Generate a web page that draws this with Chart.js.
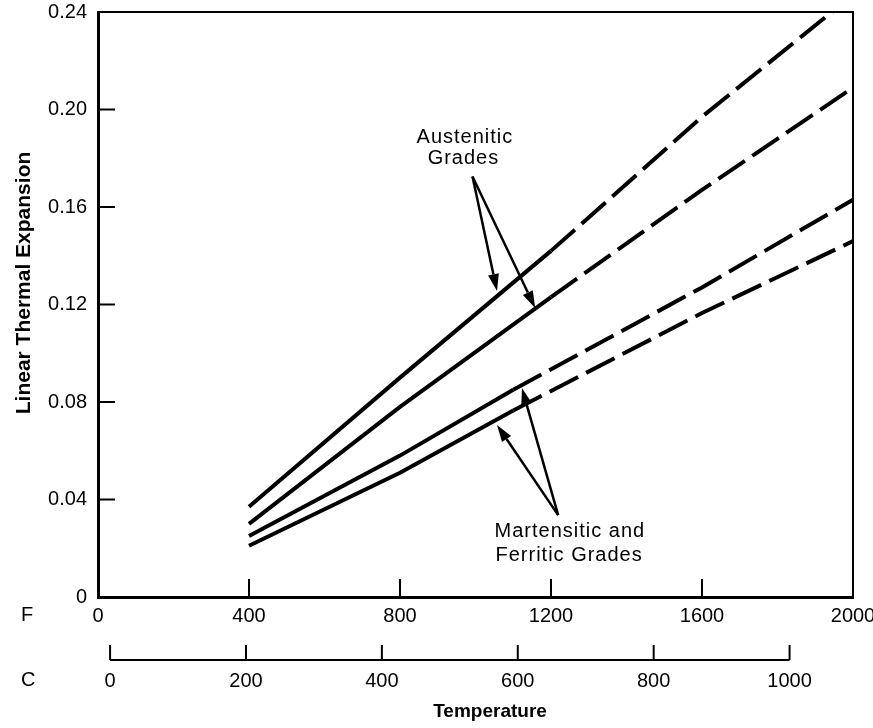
<!DOCTYPE html>
<html>
<head>
<meta charset="utf-8">
<script src="https://cdn.jsdelivr.net/npm/chart.js@4.4.0/dist/chart.umd.min.js"></script>
<style>
  html, body { margin: 0; padding: 0; background: #fff; }
  #wrap { width: 873px; height: 728px; }
</style>
</head>
<body>
<div id="wrap"><canvas id="chart"></canvas></div>
<script>
// nhiệt độ (F) và giá trị
const tempAust = [400, 800, 1200, 1600, 2000];
const tempMart = [400, 800, 1100, 1600, 2000];
const austeniticHigh = [0.037, 0.090, 0.142, 0.197, 0.247];
const austeniticLow = [0.030, 0.078, 0.123, 0.167, 0.209];
const martensiticHigh = [0.025, 0.058, 0.085, 0.127, 0.163];
const martensiticLow = [0.021, 0.051, 0.0765, 0.1165, 0.146];
const fTicks = [0, 400, 800, 1200, 1600, 2000];
const cTicks = [0, 200, 400, 600, 800, 1000];
const yTicks = [0, 0.04, 0.08, 0.12, 0.16, 0.20, 0.24];

const FONT = '"Liberation Sans", Arial, Helvetica, sans-serif';
const DASH = [32, 9];

function toPoints(xs, ys) {
    return xs.map((x, i) => ({ x: x, y: ys[i] }));
}

function makeLine(xs, ys, solidTo) {
    return {
        data: toPoints(xs, ys),
        borderColor: '#000',
        borderWidth: 4,
        pointRadius: 0,
        tension: 0,
        fill: false,
        xAxisID: 'x',
        segment: {
            borderDash: ctx => ctx.p0.parsed.x >= solidTo ? DASH : undefined
        }
    };
}

function fToC(f) { return (f - 32) * 5 / 9; }

function arrow(ctx, x1, y1, x2, y2) {
    const ang = Math.atan2(y2 - y1, x2 - x1);
    const len = 17, half = 5.5;
    const bx = x2 - len * Math.cos(ang), by = y2 - len * Math.sin(ang);
    ctx.beginPath();
    ctx.moveTo(x1, y1);
    ctx.lineTo(bx, by);
    ctx.stroke();
    ctx.beginPath();
    ctx.moveTo(x2, y2);
    ctx.lineTo(bx + half * Math.sin(ang), by - half * Math.cos(ang));
    ctx.lineTo(bx - half * Math.sin(ang), by + half * Math.cos(ang));
    ctx.closePath();
    ctx.fill();
}

// vẽ vạch chia hướng vào trong, trục C, nhãn và mũi tên
const extras = {
    id: 'extras',
    afterDraw(chart) {
        const ctx = chart.ctx;
        const a = chart.chartArea;
        const x = chart.scales.x, y = chart.scales.y, xc = chart.scales.xC;
        ctx.save();
        ctx.strokeStyle = '#000';
        ctx.fillStyle = '#000';

        // khung trên và phải
        ctx.lineWidth = 2;
        ctx.beginPath();
        ctx.moveTo(a.left, a.top);
        ctx.lineTo(a.right, a.top);
        ctx.lineTo(a.right, a.bottom);
        ctx.stroke();

        // vạch chia
        yTicks.forEach(v => {
            if (v === 0 || v === 0.24) return;
            const py = y.getPixelForValue(v);
            ctx.beginPath();
            ctx.moveTo(a.left, py);
            ctx.lineTo(a.left + 17, py);
            ctx.stroke();
        });
        fTicks.forEach(v => {
            if (v === 0 || v === 2000) return;
            const px = x.getPixelForValue(v);
            ctx.beginPath();
            ctx.moveTo(px, a.bottom);
            ctx.lineTo(px, a.bottom - 18);
            ctx.stroke();
        });

        // trục độ C
        const cy = xc.top + 23;
        ctx.beginPath();
        ctx.moveTo(xc.getPixelForValue(cTicks[0]), cy);
        ctx.lineTo(xc.getPixelForValue(cTicks[cTicks.length - 1]), cy);
        ctx.stroke();
        cTicks.forEach(v => {
            const px = xc.getPixelForValue(v);
            ctx.beginPath();
            ctx.moveTo(px, cy);
            ctx.lineTo(px, cy - 15);
            ctx.stroke();
        });

        // chữ F và C
        ctx.font = '20px ' + FONT;
        ctx.textAlign = 'left';
        ctx.textBaseline = 'middle';
        ctx.fillText('F', 21, 615);
        ctx.fillText('C', 21, 680);

        // tiêu đề trục
        ctx.save();
        ctx.translate(24, 283);
        ctx.rotate(-Math.PI / 2);
        ctx.font = 'bold 21px ' + FONT;
        ctx.textAlign = 'center';
        ctx.fillText('Linear Thermal Expansion', 0, 0);
        ctx.restore();
        ctx.font = 'bold 19px ' + FONT;
        ctx.textAlign = 'center';
        ctx.fillText('Temperature', 490, 712);

        // chú thích
        ctx.font = '20px ' + FONT;
        ctx.letterSpacing = '1px';
        const P = (f, v) => [x.getPixelForValue(f), y.getPixelForValue(v)];
        let p = P(972, 0.1887); ctx.fillText('Austenitic', p[0], p[1]);
        p = P(968, 0.1800); ctx.fillText('Grades', p[0], p[1]);
        p = P(1250, 0.0267); ctx.fillText('Martensitic and', p[0], p[1]);
        p = P(1248, 0.0172); ctx.fillText('Ferritic Grades', p[0], p[1]);
        ctx.letterSpacing = '0px';

        ctx.lineWidth = 2.5;
        let t = P(992, 0.1725), h = P(1057, 0.1255);
        arrow(ctx, t[0], t[1], h[0], h[1]);
        h = P(1158, 0.1186);
        arrow(ctx, t[0], t[1], h[0], h[1]);
        t = P(1219, 0.0336);
        h = P(1123, 0.0857);
        arrow(ctx, t[0], t[1], h[0], h[1]);
        h = P(1057, 0.0706);
        arrow(ctx, t[0], t[1], h[0], h[1]);
        ctx.restore();
    }
};

const tickFont = { family: FONT, size: 20 };

const chart = new Chart(document.getElementById('chart').getContext('2d'), {
    type: 'line',
    data: {
        datasets: [
            makeLine(tempAust, austeniticHigh, 1200),
            makeLine(tempAust, austeniticLow, 1200),
            makeLine(tempMart, martensiticHigh, 1100),
            makeLine(tempMart, martensiticLow, 1100)
        ]
    },
    options: {
        responsive: true,
        maintainAspectRatio: false,
        animation: false,
        layout: { padding: 0 },
        plugins: {
            legend: { display: false },
            tooltip: { enabled: false }
        },
        scales: {
            x: {
                type: 'linear',
                position: 'bottom',
                min: 0,
                max: 2000,
                grid: { display: false, drawTicks: false },
                border: { display: true, color: '#000', width: 3 },
                ticks: { color: '#000', padding: 7, maxRotation: 0, font: tickFont, callback: v => String(v) },
                afterBuildTicks: s => { s.ticks = fTicks.map(v => ({ value: v })); },
                afterFit: s => { s.height = 40; s.paddingLeft = 0; s.paddingRight = 20; }
            },
            xC: {
                type: 'linear',
                position: 'bottom',
                min: fToC(0),
                max: fToC(2000),
                grid: { display: false, drawTicks: false },
                border: { display: false },
                ticks: { color: '#000', padding: 32, maxRotation: 0, font: tickFont, callback: v => String(v) },
                afterBuildTicks: s => { s.ticks = cTicks.map(v => ({ value: v })); },
                afterFit: s => { s.height = 91; s.paddingLeft = 0; s.paddingRight = 0; }
            },
            y: {
                type: 'linear',
                min: 0,
                max: 0.24,
                grid: { display: false, drawTicks: false },
                border: { display: true, color: '#000', width: 3 },
                ticks: {
                    color: '#000',
                    padding: 11,
                    font: tickFont,
                    callback: v => v === 0 ? '0' : v.toFixed(2)
                },
                afterBuildTicks: s => { s.ticks = yTicks.map(v => ({ value: v })); },
                afterFit: s => { s.width = 98; s.paddingTop = 12; s.paddingBottom = 0; }
            }
        }
    },
    plugins: [extras]
});
</script>
</body>
</html>
